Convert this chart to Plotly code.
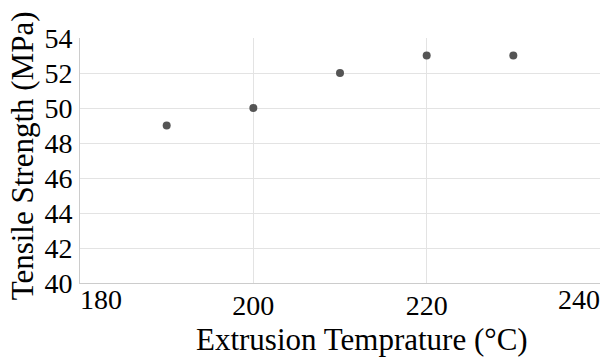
import plotly.graph_objects as go

# Data
temperature = [190, 200, 210, 220, 230]
tensile_strength = [49, 50, 52, 53, 53]

x_mid_ticks = [200, 220]
x_left_tick = [180]
x_right_tick = [240]
y_ticks = [40, 42, 44, 46, 48, 50, 52, 54]

x_title = "Extrusion Temprature (°C)"
y_title = "Tensile Strength (MPa)"

FONT = "Liberation Serif"
TICK_SIZE = 28
TITLE_SIZE = 31

fig = go.Figure()
fig.add_trace(go.Scatter(
    x=temperature, y=tensile_strength, mode="markers",
    marker=dict(color="#555555", size=8), showlegend=False,
))

common_x = dict(range=[180, 240], ticks="", ticklabelstandoff=-3,
                tickfont=dict(family=FONT, size=TICK_SIZE, color="#000000"))

fig.update_layout(
    width=601, height=359,
    margin=dict(l=80, r=1, t=38, b=76, autoexpand=False),
    paper_bgcolor="white", plot_bgcolor="white",
    font=dict(family=FONT, color="#000000"),
    xaxis=dict(**common_x, tickvals=x_mid_ticks,
               ticktext=[str(v) for v in x_mid_ticks],
               showgrid=True, gridcolor="#e3e3e3", gridwidth=1,
               showline=True, linecolor="#cccccc", linewidth=1,
               zeroline=False, automargin=False),
    xaxis2=dict(**common_x, overlaying="x", matches="x", anchor="y",
                tickvals=x_left_tick, ticktext=[str(v) for v in x_left_tick],
                ticklabelposition="outside right", showgrid=False,
                showline=False, zeroline=False, automargin=False),
    xaxis3=dict(**common_x, overlaying="x", matches="x", anchor="y",
                tickvals=x_right_tick, ticktext=[str(v) for v in x_right_tick],
                ticklabelposition="outside left", showgrid=True,
                gridcolor="#e3e3e3", showline=False, zeroline=False,
                automargin=False),
    yaxis=dict(range=[40, 54], tickvals=y_ticks,
               ticktext=[str(v) for v in y_ticks],
               ticks="", ticklabelstandoff=1,
               tickfont=dict(family=FONT, size=TICK_SIZE, color="#000000"),
               showgrid=True, gridcolor="#e3e3e3", gridwidth=1,
               showline=True, linecolor="#cccccc", linewidth=1,
               zeroline=False, automargin=False),
    annotations=[
        dict(text=x_title, xref="paper", yref="paper",
             x=0.542, y=-0.232, xanchor="center", yanchor="middle",
             showarrow=False,
             font=dict(family=FONT, size=TITLE_SIZE, color="#000000")),
        dict(text=y_title, xref="paper", yref="paper", textangle=-90,
             x=-0.111, y=0.518, xanchor="center", yanchor="middle",
             showarrow=False,
             font=dict(family=FONT, size=TITLE_SIZE, color="#000000")),
    ],
)

# invisible traces so the overlay axes render
fig.add_trace(go.Scatter(x=[None], y=[None], xaxis="x2", yaxis="y",
                         showlegend=False, hoverinfo="skip"))
fig.add_trace(go.Scatter(x=[None], y=[None], xaxis="x3", yaxis="y",
                         showlegend=False, hoverinfo="skip"))

fig.write_html("out.html")
